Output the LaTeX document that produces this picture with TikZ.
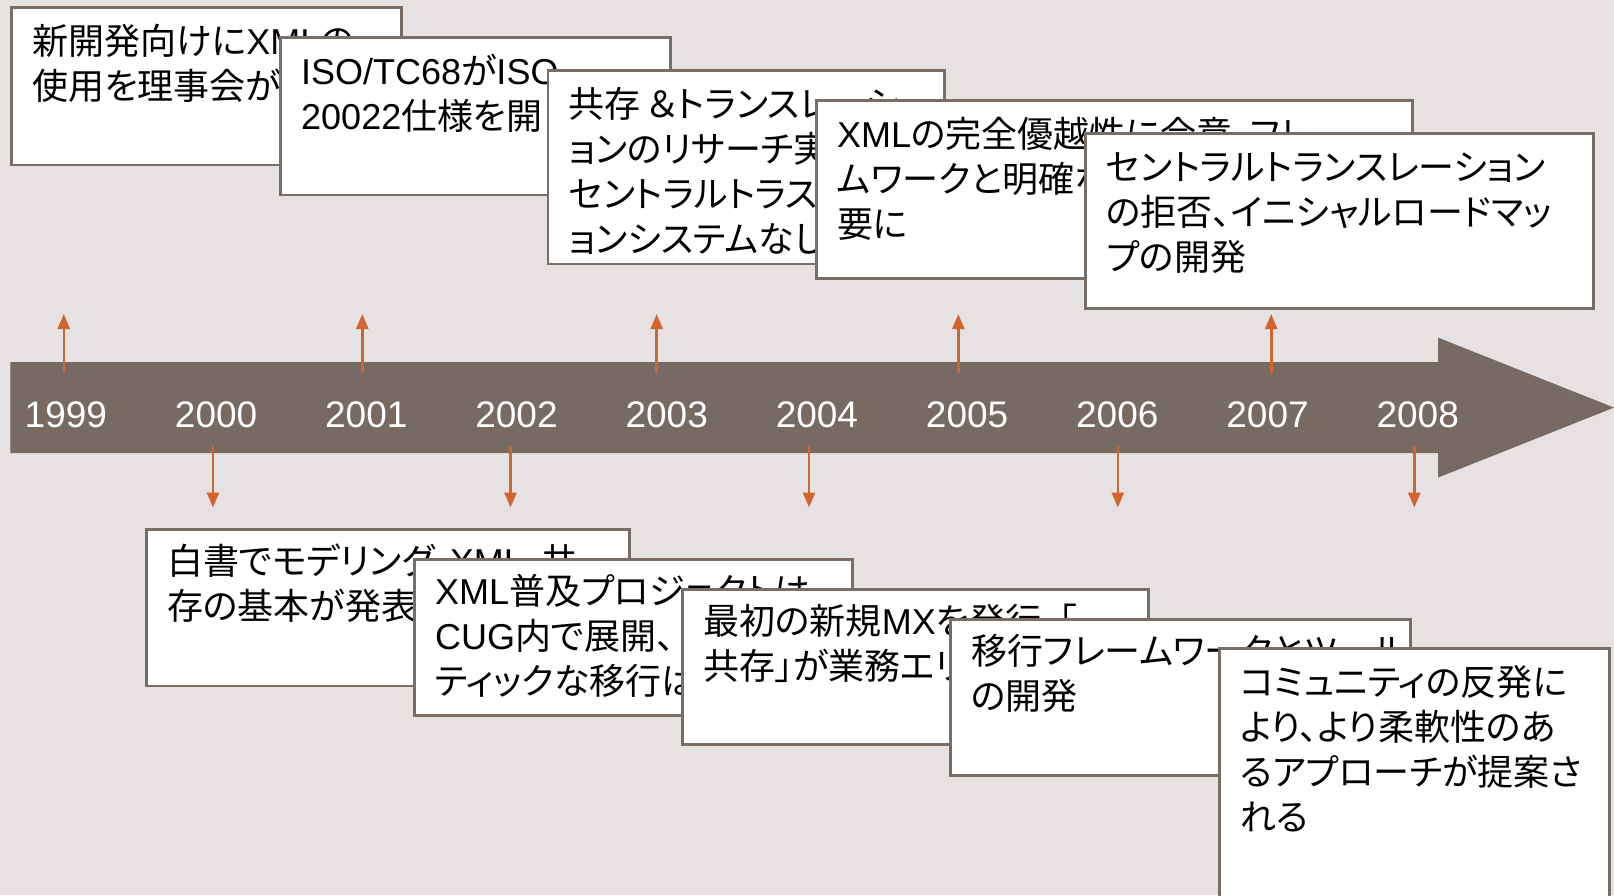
\documentclass[tikz,border=0pt]{standalone}
\usepackage{fontspec}
\setmainfont{Liberation Sans}
\newfontfamily\jpfont[RawFeature=+palt]{Noto Sans CJK JP}
\newcommand\La[1]{{\normalfont #1}}
\usetikzlibrary{arrows.meta}
\definecolor{bg}{HTML}{E6E2E1}
\definecolor{band}{HTML}{766A62}
\definecolor{boxline}{HTML}{796D66}
\definecolor{tickc}{HTML}{D2652F}
\begin{document}
\begin{tikzpicture}[x=1pt,y=-1pt,
  evbox/.style={draw=boxline, line width=2.5pt, fill=white, rectangle, inner sep=0pt, anchor=north west},
  evtext/.style={anchor=north west, inner sep=0pt, align=left, text width=600pt, font=\jpfont\fontsize{36}{45}\selectfont},
  yearlbl/.style={text=white, font=\fontsize{37}{40}\selectfont, inner sep=0pt},
  tickarrow/.style={draw=tickc, line width=2.6pt, -{Triangle[length=15pt,width=12pt]}}]
\fill[bg] (0,0) rectangle (1614,895);
\useasboundingbox (0,0) rectangle (1614,895);
\clip (0,0) rectangle (1614,895);
% timeline band
\fill[band] (10.3,362) -- (1438,362) -- (1438,337.6) -- (1614,407.6) -- (1438,477.6) -- (1438,453) -- (10.3,453) -- cycle;
% years
\foreach \yr [count=\i from 0] in {1999,2000,2001,2002,2003,2004,2005,2006,2007,2008}
  \node[yearlbl] (y\yr) at (65.9+150.2*\i,415) {\yr};
% up arrows
\foreach \nm/\xx in {a1999/63.8,a2001/362.3,a2003/656.7,a2005/958.3,a2007/1271.2}{
  \coordinate (\nm s) at (\xx,372.6);
  \coordinate (\nm e) at (\xx,314);
  \draw[tickarrow] (\nm s) -- (\nm e);
}
% down arrows
\foreach \nm/\xx in {a2000/213,a2002/510.5,a2004/809,a2006/1117.8,a2008/1414.3}{
  \coordinate (\nm s) at (\xx,445.7);
  \coordinate (\nm e) at (\xx,507.5);
  \draw[tickarrow] (\nm s) -- (\nm e);
}
% top boxes
\node[evbox, minimum width=390pt, minimum height=157.5pt] (b1) at (10.3,6.2) {};
\node[evtext] (t1) at ([shift={(22,17)}]b1.north west) {\strut 新開発向けに\La{XML}の\\使用を理事会が};
\node[evbox, minimum width=390pt, minimum height=157.5pt] (b2) at (279,36) {};
\node[evtext] (t2) at ([shift={(22,17)}]b2.north west) {\strut \La{ISO/TC68}が\La{ISO}\\\La{20022}仕様を開};
\node[evbox, minimum width=396.4pt, minimum height=193.5pt] (b3) at (546.6,69) {};
\node[evtext] (t3) at ([shift={(22,17)}]b3.north west) {\strut 共存\hspace{7pt}＆トランスレーシ\\ョンのリサーチ実\\セントラルトラス\\ョンシステムなし};
\node[evbox, minimum width=596pt, minimum height=178pt] (b4) at (815,99) {};
\node[evtext] (t4) at ([shift={(22,17)}]b4.north west) {\strut \La{XML}の完全優越性に合意、フレ\\ムワークと明確な\\要に};
\node[evbox, minimum width=508pt, minimum height=175pt] (b5) at (1084,132) {};
\node[evtext] (t5) at ([shift={(22,17)}]b5.north west) {\strut セントラルトランスレーション\\の拒否、イニシャルロードマッ\\プの開発};
% bottom boxes
\node[evbox, minimum width=483pt, minimum height=156.5pt] (b6) at (145,528) {};
\node[evtext] (t6) at ([shift={(22,15)}]b6.north west) {\strut 白書でモデリング、\La{XML}、共\\存の基本が発表};
\node[evbox, minimum width=438pt, minimum height=156pt] (b7) at (413,558) {};
\node[evtext] (t7) at ([shift={(22,15)}]b7.north west) {\strut \La{XML}普及プロジェクトは\\\La{CUG}内で展開、\\ティックな移行は};
\node[evbox, minimum width=466pt, minimum height=155pt] (b8) at (681,588) {};
\node[evtext] (t8) at ([shift={(22,15)}]b8.north west) {\strut 最初の新規\La{MX}を発行、「\\共存」が業務エリ};
\node[evbox, minimum width=460pt, minimum height=156pt] (b9) at (949,618) {};
\node[evtext] (t9) at ([shift={(22,15)}]b9.north west) {\strut 移行フレームワークとツール\\の開発};
\node[evbox, minimum width=390pt, minimum height=270pt] (b10) at (1218,647) {};
\node[evtext] (t10) at ([shift={(22,17)}]b10.north west) {\strut コミュニティの反発に\\より、より柔軟性のあ\\るアプローチが提案さ\\れる};
\end{tikzpicture}
\end{document}
